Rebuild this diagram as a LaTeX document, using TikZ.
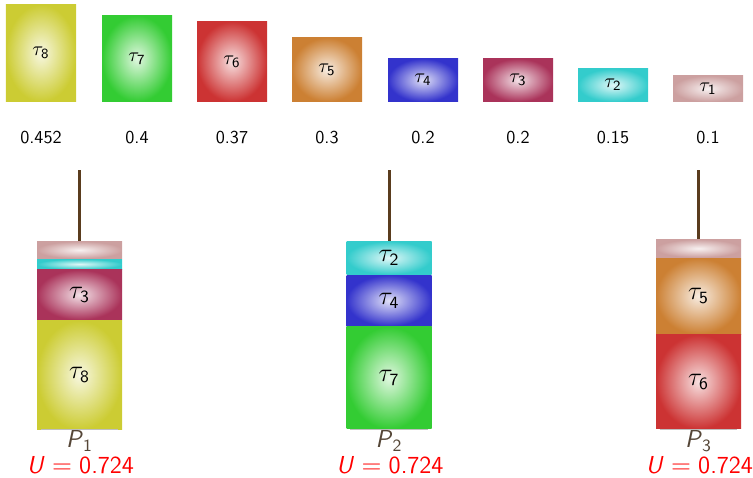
\documentclass[tikz,border=0pt]{standalone}
\usepackage{amsmath}
\usetikzlibrary{positioning}

\newcommand\pxu{0.55pt}
\newcommand\tl[1]{$\tau_{\textsf{#1}}$}
\definecolor{cOne}{RGB}{204,160,160}
\definecolor{cTwo}{RGB}{51,204,204}
\definecolor{cThree}{RGB}{170,51,90}
\definecolor{cFour}{RGB}{51,51,204}
\definecolor{cFive}{RGB}{204,128,51}
\definecolor{cSix}{RGB}{204,51,51}
\definecolor{cSeven}{RGB}{51,204,51}
\definecolor{cEight}{RGB}{204,204,51}
\definecolor{wireBrown}{RGB}{90,60,30}
\definecolor{procText}{RGB}{85,70,55}

\tikzset{
  taskbox/.style={inner sep=0pt, minimum width=70*\pxu, anchor=south, font=\fontsize{11}{13}\selectfont},
  slot/.style={inner sep=0pt, minimum width=85*\pxu, font=\fontsize{13.5}{16}\selectfont},
  wire/.style={draw=wireBrown, line width=3*\pxu},
  proclabel/.style={text=procText, font=\fontsize{13.5}{16}\selectfont},
  utillabel/.style={text=red, font=\fontsize{13.5}{16}\selectfont},
}

\begin{document}
\begin{tikzpicture}[x=0.55pt, y=-0.55pt]
\useasboundingbox (0,0) rectangle (753,478);
% task set, sorted by utilisation
\foreach \n/\x/\h/\c/\v in {8/41/97/cEight/0.452, 7/137/86/cSeven/0.4, 6/232/80/cSix/0.37,
    5/327/64/cFive/0.3, 4/423/43/cFour/0.2, 3/518/43/cThree/0.2, 2/613/33/cTwo/0.15, 1/708/26/cOne/0.1} {
  \node[taskbox, inner color=\c!15!white, outer color=\c, minimum height=\h*\pxu] (t\n) at (\x,102) {\tl{\n}};
  \node[font=\sffamily] (v\n) at (\x,138) {\v};
}
% P1
\node[slot, inner color=cOne!15!white, outer color=cOne, minimum height=17*\pxu, anchor=north] (p1a) at (79.5,241) {};
\node[slot, inner color=cTwo!15!white, outer color=cTwo, minimum height=10*\pxu, below=0pt of p1a] (p1b) {};
\node[slot, inner color=cThree!15!white, outer color=cThree, minimum height=50*\pxu, below=0pt of p1b] (p1c) {\tl{3}};
\node[slot, inner color=cEight!15!white, outer color=cEight, minimum height=109*\pxu, below=0pt of p1c] (p1d) {\tl{8}};
% P2
\node[slot, inner color=cTwo!15!white, outer color=cTwo, minimum height=33*\pxu, anchor=north] (p2a) at (389,241) {\tl{2}};
\node[slot, inner color=cFour!15!white, outer color=cFour, minimum height=51*\pxu, below=0pt of p2a] (p2b) {\tl{4}};
\node[slot, inner color=cSeven!15!white, outer color=cSeven, minimum height=102*\pxu, below=0pt of p2b] (p2c) {\tl{7}};
% P3
\node[slot, inner color=cOne!15!white, outer color=cOne, minimum height=18*\pxu, anchor=north] (p3a) at (698.5,239) {};
\node[slot, inner color=cFive!15!white, outer color=cFive, minimum height=76*\pxu, below=0pt of p3a] (p3b) {\tl{5}};
\node[slot, inner color=cSix!15!white, outer color=cSix, minimum height=94*\pxu, below=0pt of p3b] (p3c) {\tl{6}};
% hangers and labels
\foreach \i/\top/\bot/\x in {1/p1a/p1d/79.5, 2/p2a/p2c/389, 3/p3a/p3c/698.5} {
  \coordinate (h\i) at (\x,170);
  \draw[wire] (h\i) -- (\top.north);
  \draw[gray!50, line width=1*\pxu] ([xshift=4*\pxu]\bot.south west) -- ([xshift=-4*\pxu]\bot.south east);
  \node[proclabel] (l\i) at (\x,441) {$\textsf{\textit{P}}_{\textsf{\i}}$};
  \node[utillabel] (u\i) at (\x+1,465) {$\textsf{\textit{U}} = \textsf{0.724}$};
}
\end{tikzpicture}
\end{document}
